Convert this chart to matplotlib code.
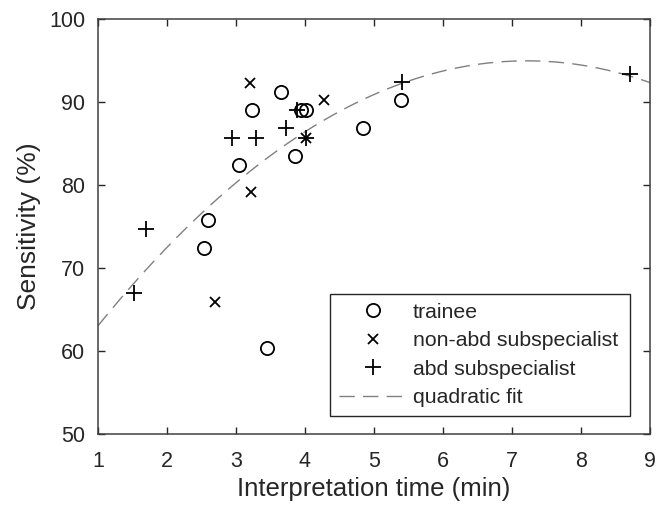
import numpy as np
import matplotlib
matplotlib.use("Agg")
import matplotlib.pyplot as plt

# values
trainee_x = [2.54, 2.60, 3.05, 3.24, 3.45, 3.66, 3.86, 3.95, 4.01, 4.84, 5.39]
trainee_y = [72.4, 75.8, 82.4, 89.0, 60.3, 91.2, 83.5, 89.0, 89.0, 86.8, 90.2]

nonabd_x = [2.69, 3.21, 3.22, 4.01, 4.27]
nonabd_y = [65.9, 92.3, 79.1, 85.7, 90.2]

abd_x = [1.52, 1.69, 2.94, 3.29, 3.73, 3.88, 4.01, 5.40, 8.71]
abd_y = [67.0, 74.7, 85.6, 85.6, 86.8, 89.0, 85.7, 92.4, 93.4]

x_ticks = [1, 2, 3, 4, 5, 6, 7, 8, 9]
y_ticks = [50, 60, 70, 80, 90, 100]

plt.rcParams["font.family"] = ["Liberation Sans", "DejaVu Sans"]
dark = "#262626"

fig = plt.figure(figsize=(6.66, 5.11), dpi=100)
ax = fig.add_axes([0.147, 0.151, 0.829, 0.812])

ax.plot(trainee_x, trainee_y, "o", mfc="none", mec="black", ms=9.5, mew=1.3,
        label="trainee", zorder=3)
ax.plot(nonabd_x, nonabd_y, "x", color="black", ms=7, mew=1.3,
        label="non-abd subspecialist", zorder=3)
ax.plot(abd_x, abd_y, "+", color="black", ms=12, mew=1.3,
        label="abd subspecialist", zorder=3)

# quadratic fit through all points
all_x = np.array(trainee_x + nonabd_x + abd_x)
all_y = np.array(trainee_y + nonabd_y + abd_y)
coef = np.polyfit(all_x, all_y, 2)
xf = np.linspace(1, 9, 200)
ax.plot(xf, np.polyval(coef, xf), color="#808080", lw=1.0, dashes=(11, 6),
        label="quadratic fit", zorder=2)

ax.set_xlim(1, 9)
ax.set_ylim(50, 100)
ax.set_xticks(x_ticks)
ax.set_yticks(y_ticks)
ax.tick_params(direction="in", length=5, width=1, colors=dark, labelsize=15.5,
               top=True, right=True, pad=9)
ax.tick_params(axis="x", pad=12)
for s in ax.spines.values():
    s.set_color("#404040")
    s.set_linewidth(1.1)

ax.set_xlabel("Interpretation time (min)", fontsize=18.5, color=dark, labelpad=4)
ax.set_ylabel("Sensitivity (%)", fontsize=19, color=dark, labelpad=6)

leg = ax.legend(loc="lower left", bbox_to_anchor=(0.42, 0.042, 0.544, 0.297),
                mode="expand", fontsize=15.3, frameon=True, fancybox=False,
                edgecolor=dark, framealpha=1, borderpad=0.42, labelspacing=0.45,
                handlelength=3.2, handletextpad=0.3, borderaxespad=0)
leg.get_frame().set_linewidth(1.0)
for t in leg.get_texts():
    t.set_color(dark)

fig.savefig("out.png", dpi=100)
